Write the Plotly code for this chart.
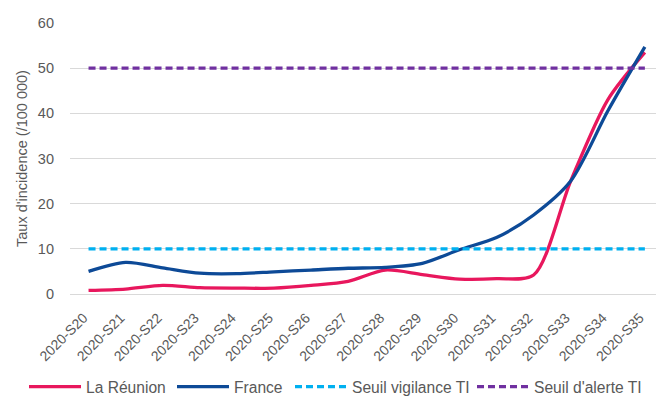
import plotly.graph_objects as go

weeks = ["2020-S20", "2020-S21", "2020-S22", "2020-S23", "2020-S24", "2020-S25",
         "2020-S26", "2020-S27", "2020-S28", "2020-S29", "2020-S30", "2020-S31",
         "2020-S32", "2020-S33", "2020-S34", "2020-S35"]
reunion = [0.8, 1.1, 1.9, 1.4, 1.3, 1.3, 1.9, 2.8, 5.3, 4.3, 3.3, 3.4, 4.2, 25.0, 43.0, 53.5]
france = [5.0, 7.0, 5.8, 4.6, 4.5, 4.9, 5.3, 5.7, 5.9, 6.8, 9.8, 12.5, 17.5, 25.0, 40.5, 54.7]
seuil_vigilance = [10] * len(weeks)
seuil_alerte = [50] * len(weeks)

fig = go.Figure()
fig.add_trace(go.Scatter(x=weeks, y=reunion, name="La Réunion", mode="lines", legend="legend",
                         line=dict(color="#E8175D", width=3.3, shape="spline", smoothing=0.8)))
fig.add_trace(go.Scatter(x=weeks, y=france, name="France", mode="lines", legend="legend2",
                         line=dict(color="#0D4A97", width=3.3, shape="spline", smoothing=0.8)))
fig.add_trace(go.Scatter(x=weeks, y=seuil_vigilance, name="Seuil vigilance TI", mode="lines",
                         legend="legend3",
                         line=dict(color="#00B0F0", width=3.3, dash="7px,4px")))
fig.add_trace(go.Scatter(x=weeks, y=seuil_alerte, name="Seuil d'alerte TI", mode="lines",
                         legend="legend4",
                         line=dict(color="#7030A0", width=3.3, dash="7px,4px")))

legend_font = dict(size=15.6, color="#595959")
def leg(xpx):
    return dict(orientation="h", xref="container", yref="container",
                x=xpx / 656, xanchor="left", y=0, yanchor="bottom",
                font=legend_font, itemwidth=52, bgcolor="rgba(0,0,0,0)")

fig.update_layout(
    width=656, height=404,
    margin=dict(l=70, r=0, t=23, b=110),
    paper_bgcolor="white", plot_bgcolor="white",
    font=dict(family="Liberation Sans", color="#595959", size=13),
    showlegend=True,
    legend=leg(24), legend2=leg(172), legend3=leg(290), legend4=leg(472),
    xaxis=dict(range=[-0.5, 15.3], tickangle=-45, showgrid=False, showline=False,
               ticks="", automargin=False, ticklabelshift=-5, ticklabelstandoff=12,
               tickfont=dict(size=14, color="#595959")),
    yaxis=dict(range=[0, 60], dtick=10, showgrid=True, gridcolor="#D9D9D9", gridwidth=1,
               zeroline=True, zerolinecolor="#D9D9D9", zerolinewidth=1, showline=False,
               ticks="", ticklabelstandoff=15, automargin=False,
               title=dict(text="Taux d'incidence (/100 000)", font=dict(size=14.5, color="#595959"),
                          standoff=6),
               tickfont=dict(size=14.5, color="#595959")),
)

fig.write_html("out.html", config={"displayModeBar": False},
               post_script="document.body.style.margin='0';document.body.style.overflow='hidden';")
